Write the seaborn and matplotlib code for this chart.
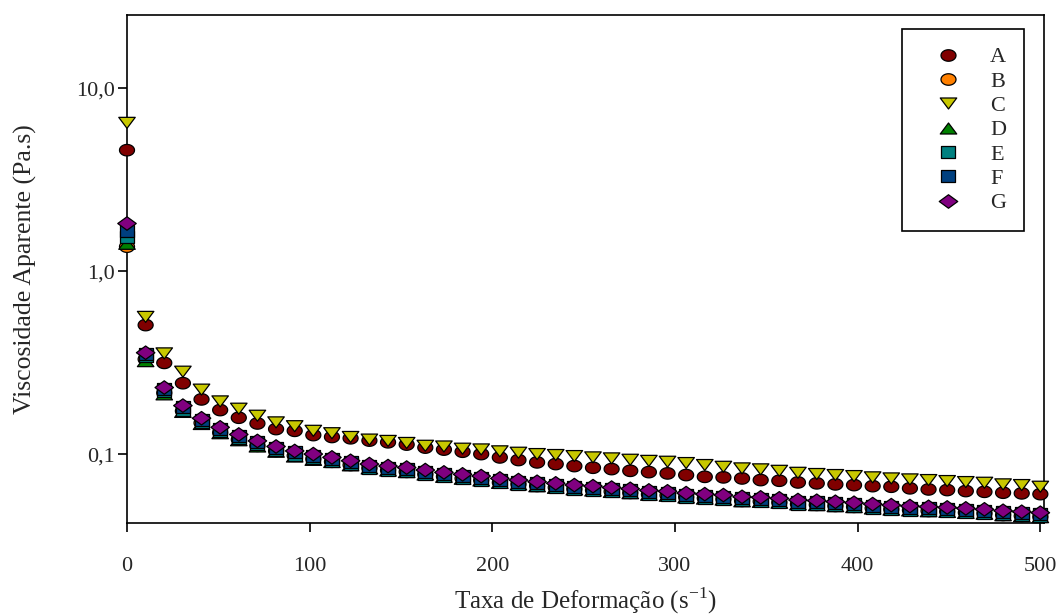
import numpy as np
import pandas as pd
import matplotlib
matplotlib.use("Agg")
import matplotlib.pyplot as plt
from matplotlib.path import Path
from matplotlib.lines import Line2D
from matplotlib.ticker import FixedLocator, FixedFormatter, NullLocator
import seaborn as sns

# ---------------- data ----------------
shear_rate = [0.0, 10.2, 20.4, 30.6, 40.8, 51.0, 61.2, 71.4, 81.6, 91.8,
              102.0, 112.2, 122.4, 132.7, 142.9, 153.1, 163.3, 173.5, 183.7, 193.9,
              204.1, 214.3, 224.5, 234.7, 244.9, 255.1, 265.3, 275.5, 285.7, 295.9,
              306.1, 316.3, 326.5, 336.7, 346.9, 357.1, 367.3, 377.6, 387.8, 398.0,
              408.2, 418.4, 428.6, 438.8, 449.0, 459.2, 469.4, 479.6, 489.8, 500.0]

visc_A = [4.58, 0.507, 0.315, 0.244, 0.199, 0.174, 0.158, 0.147, 0.137, 0.134,
          0.127, 0.124, 0.122, 0.1185, 0.116, 0.1127, 0.1085, 0.1058, 0.103, 0.100,
          0.0959, 0.0928, 0.0901, 0.0882, 0.0860, 0.0842, 0.0828, 0.0810, 0.0797, 0.0784,
          0.0768, 0.0751, 0.0746, 0.0736, 0.0721, 0.0715, 0.0700, 0.0692, 0.0683, 0.0677,
          0.0668, 0.0663, 0.0650, 0.0641, 0.0636, 0.0628, 0.0622, 0.0615, 0.0610, 0.0604]

visc_B = [1.36, 0.330, 0.216, 0.172, 0.148, 0.131, 0.120, 0.111, 0.104, 0.098,
          0.094, 0.0908, 0.0872, 0.0838, 0.0816, 0.0800, 0.0776, 0.0754, 0.0736, 0.0720,
          0.0699, 0.0685, 0.0670, 0.0657, 0.0644, 0.0635, 0.0624, 0.0614, 0.0602, 0.0595,
          0.0582, 0.0574, 0.0567, 0.0555, 0.0551, 0.0544, 0.0533, 0.0528, 0.0521, 0.0515,
          0.0506, 0.0499, 0.0494, 0.0489, 0.0485, 0.0479, 0.0474, 0.0465, 0.0459, 0.0454]

visc_C = [6.46, 0.562, 0.355, 0.282, 0.225, 0.194, 0.177, 0.162, 0.149, 0.142,
          0.134, 0.130, 0.124, 0.120, 0.118, 0.115, 0.111, 0.110, 0.107, 0.106,
          0.1035, 0.1017, 0.100, 0.0988, 0.0975, 0.0959, 0.0947, 0.0931, 0.0918, 0.0908,
          0.0893, 0.0871, 0.0852, 0.0835, 0.0825, 0.0810, 0.0790, 0.0778, 0.0768, 0.0758,
          0.0746, 0.0736, 0.0727, 0.0721, 0.0712, 0.0703, 0.0697, 0.0683, 0.0677, 0.0663]

visc_D = [1.41, 0.322, 0.212, 0.170, 0.146, 0.130, 0.119, 0.110, 0.103, 0.097,
          0.093, 0.0905, 0.0868, 0.0834, 0.0813, 0.0797, 0.0773, 0.0751, 0.0733, 0.0717,
          0.0696, 0.0682, 0.0667, 0.0654, 0.0641, 0.0632, 0.0621, 0.0611, 0.0599, 0.0592,
          0.0579, 0.0571, 0.0564, 0.0552, 0.0548, 0.0542, 0.0531, 0.0526, 0.0519, 0.0513,
          0.0504, 0.0497, 0.0492, 0.0487, 0.0483, 0.0477, 0.0472, 0.0463, 0.0457, 0.0452]

visc_E = [1.54, 0.345, 0.222, 0.175, 0.150, 0.133, 0.122, 0.113, 0.105, 0.099,
          0.095, 0.0915, 0.0878, 0.0843, 0.0822, 0.0805, 0.0781, 0.0759, 0.0740, 0.0724,
          0.0703, 0.0689, 0.0674, 0.0661, 0.0647, 0.0638, 0.0627, 0.0617, 0.0605, 0.0598,
          0.0585, 0.0577, 0.0570, 0.0558, 0.0554, 0.0547, 0.0536, 0.0531, 0.0524, 0.0518,
          0.0509, 0.0502, 0.0497, 0.0492, 0.0488, 0.0482, 0.0477, 0.0468, 0.0462, 0.0457]

visc_F = [1.65, 0.352, 0.228, 0.180, 0.154, 0.137, 0.125, 0.116, 0.108, 0.102,
          0.098, 0.0940, 0.0900, 0.0865, 0.0843, 0.0827, 0.0802, 0.0778, 0.0760, 0.0743,
          0.0721, 0.0707, 0.0692, 0.0678, 0.0663, 0.0655, 0.0643, 0.0633, 0.0620, 0.0613,
          0.0600, 0.0592, 0.0585, 0.0572, 0.0568, 0.0562, 0.0550, 0.0545, 0.0538, 0.0531,
          0.0522, 0.0515, 0.0510, 0.0505, 0.0501, 0.0495, 0.0489, 0.0480, 0.0474, 0.0468]

visc_G = [1.82, 0.358, 0.231, 0.184, 0.157, 0.140, 0.128, 0.118, 0.110, 0.104,
          0.100, 0.0959, 0.0919, 0.0882, 0.0860, 0.0844, 0.0818, 0.0794, 0.0775, 0.0758,
          0.0736, 0.0721, 0.0706, 0.0692, 0.0677, 0.0668, 0.0656, 0.0646, 0.0633, 0.0626,
          0.0612, 0.0604, 0.0597, 0.0584, 0.0580, 0.0573, 0.0561, 0.0556, 0.0549, 0.0542,
          0.0533, 0.0526, 0.0520, 0.0515, 0.0511, 0.0505, 0.0499, 0.0490, 0.0484, 0.0478]

series_names = ["A", "B", "C", "D", "E", "F", "G"]
series_values = [visc_A, visc_B, visc_C, visc_D, visc_E, visc_F, visc_G]

xtick_values = [0, 100, 200, 300, 400, 500]
xtick_labels = ["0", "100", "200", "300", "400", "500"]
ytick_values = [0.1, 1.0, 10.0]
ytick_labels = ["0,1", "1,0", "10,0"]

colors = {"A": "#800000", "B": "#FF8000", "C": "#C8C800", "D": "#008000",
          "E": "#008080", "F": "#004080", "G": "#800080"}

# ---------------- marker shapes (slightly wide, as in the reference) ----------------
def ellipse_path(w, h):
    t = np.linspace(0, 2 * np.pi, 61)
    return Path(np.column_stack([w / 2 * np.cos(t), h / 2 * np.sin(t)]), closed=True)

def poly_path(pts):
    pts = list(pts) + [pts[0]]
    return Path(np.array(pts, dtype=float), closed=True)

marker_dims = {  # width, height in pixels
    "A": (15, 11.5), "B": (15, 11.5), "C": (16.5, 11), "D": (16.5, 11),
    "E": (14, 12), "F": (14, 12), "G": (18.5, 13.5),
}

def make_marker(name):
    w, h = marker_dims[name]
    if name in ("A", "B"):
        return ellipse_path(w, h)
    if name == "C":
        return poly_path([(-w / 2, h / 2), (w / 2, h / 2), (0, -h / 2)])
    if name == "D":
        return poly_path([(-w / 2, -h / 2), (w / 2, -h / 2), (0, h / 2)])
    if name in ("E", "F"):
        return poly_path([(-w / 2, -h / 2), (w / 2, -h / 2), (w / 2, h / 2), (-w / 2, h / 2)])
    return poly_path([(-w / 2, 0), (0, -h / 2), (w / 2, 0), (0, h / 2)])

markers = {n: make_marker(n) for n in series_names}
marker_pt = {n: marker_dims[n][0] * 0.72 for n in series_names}
sizes = {n: marker_pt[n] ** 2 for n in series_names}

# ---------------- long table ----------------
frames = []
for name, vals in zip(series_names, series_values):
    frames.append(pd.DataFrame({"x": shear_rate, "y": vals, "series": name}))
df = pd.concat(frames, ignore_index=True)

# ---------------- plot ----------------
sns.set_style("ticks")
plt.rcParams["font.family"] = ["Liberation Serif", "DejaVu Serif"]
plt.rcParams["mathtext.fontset"] = "custom"
plt.rcParams["mathtext.rm"] = "Liberation Serif"

fig = plt.figure(figsize=(10.64, 6.16), dpi=100)
ax = fig.add_axes([127 / 1064, 1 - 523 / 616, (1044 - 127) / 1064, (523 - 15) / 616])

sns.scatterplot(data=df, x="x", y="y", hue="series", style="series", size="series",
                hue_order=series_names, palette=colors, markers=markers, sizes=sizes,
                edgecolor="black", linewidth=0.9, alpha=1, legend=False, ax=ax,
                clip_on=False, zorder=3)

ax.set_yscale("log")
ax.set_xlim(0, 502)
ax.set_ylim(0.042, 25.1)
ax.xaxis.set_major_locator(FixedLocator(xtick_values))
ax.xaxis.set_major_formatter(FixedFormatter(xtick_labels))
ax.yaxis.set_major_locator(FixedLocator(ytick_values))
ax.yaxis.set_major_formatter(FixedFormatter(ytick_labels))
ax.yaxis.set_minor_locator(NullLocator())
ax.xaxis.set_minor_locator(NullLocator())

for sp in ax.spines.values():
    sp.set_color("black")
    sp.set_linewidth(1.2)

ax.tick_params(axis="x", direction="out", length=6.5, width=1.2, labelsize=16, pad=18, color="black")
ax.tick_params(axis="y", direction="out", length=6.5, width=1.2, labelsize=16, pad=2, color="black")

ax.set_xlabel(r"Taxa de Deformação (s$^{\mathregular{-1}}$)", fontsize=18)
ax.set_ylabel("Viscosidade Aparente (Pa.s)", fontsize=18.5)
ax.xaxis.set_label_coords(0.5, -0.122)
ax.yaxis.set_label_coords(-0.098, 0.5)

handles = [Line2D([], [], linestyle="none", marker=markers[n], markersize=marker_pt[n],
                  markerfacecolor=colors[n], markeredgecolor="black", markeredgewidth=0.9)
           for n in series_names]
leg = ax.legend(handles, series_names, loc="upper right",
                bbox_to_anchor=((1024 - 127) / 917, (523 - 29) / 508),
                borderaxespad=0, frameon=True, fancybox=False, framealpha=1,
                edgecolor="black", fontsize=16, borderpad=0.8, labelspacing=0.17,
                handlelength=2.5, handletextpad=0.65, numpoints=1)
leg.get_frame().set_linewidth(1.2)

fig.savefig("out.png", dpi=100)
